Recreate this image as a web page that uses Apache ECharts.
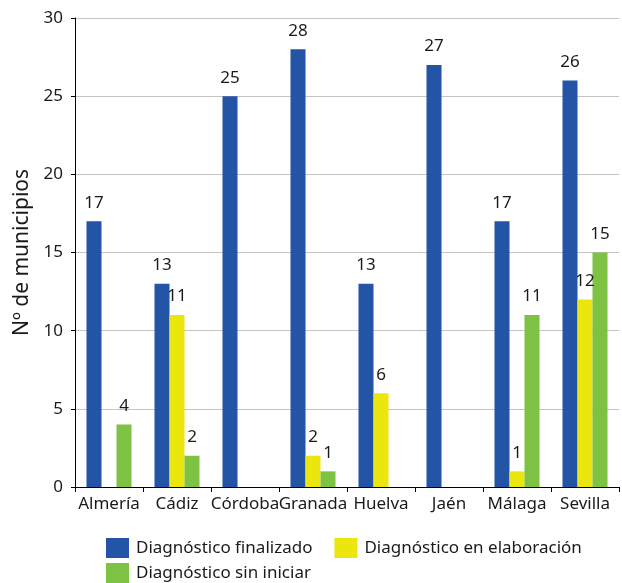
<!DOCTYPE html>
<html><head><meta charset="utf-8">
<script src="https://cdn.jsdelivr.net/npm/echarts@6/dist/echarts.min.js"></script>
<style>html,body{margin:0;padding:0;background:#fff}#c{width:622px;height:583px}</style>
</head><body><div id="c"></div>
<script>
var categories = ['Almería','Cádiz','Córdoba','Granada','Huelva','Jaén','Málaga','Sevilla'];
var finalizado = [17, 13, 25, 28, 13, 27, 17, 26];
var elaboracion = [0, 11, 0, 2, 6, 0, 1, 12];
var sinIniciar = [4, 2, 0, 1, 0, 0, 11, 15];
var seriesNames = ['Diagnóstico finalizado','Diagnóstico en elaboración','Diagnóstico sin iniciar'];
var colors = ['#2354a6','#eae60e','#7dc242'];
var yTicks = {min:0, max:30, interval:5};

var font = 'Noto Sans';
var chart = echarts.init(document.getElementById('c'));
function lbl(){
  return {show:true, position:'top', distance:10, color:'#1a1a1a', fontSize:17, fontFamily:font,
    formatter:function(p){return p.value ? String(p.value) : '';}};
}
var data = [finalizado, elaboracion, sinIniciar];
chart.setOption({
  animation:false,
  textStyle:{fontFamily:font},
  grid:{left:75, right:3, top:18, bottom:96},
  legend:[
    {data:[seriesNames[0], seriesNames[1]], left:106, top:538, padding:0, itemWidth:23, itemHeight:20, itemGap:22,
     icon:'rect', textStyle:{fontSize:17, color:'#1a1a1a', fontFamily:font, padding:[0,0,0,2]}},
    {data:[seriesNames[2]], left:106, top:563, padding:0, itemWidth:23, itemHeight:20,
     icon:'rect', textStyle:{fontSize:17, color:'#1a1a1a', fontFamily:font, padding:[0,0,0,2]}}
  ],
  xAxis:{type:'category', data:categories,
    axisLine:{lineStyle:{color:'#000', width:1}},
    axisTick:{show:true, length:5, lineStyle:{color:'#000'}},
    axisLabel:{color:'#1a1a1a', fontSize:17, margin:9, fontFamily:font, interval:0}},
  yAxis:{type:'value', min:yTicks.min, max:yTicks.max, interval:yTicks.interval,
    name:'Nº de municipios', nameLocation:'middle', nameGap:40, nameRotate:90,
    nameTextStyle:{fontSize:21, color:'#1a1a1a', fontFamily:font},
    axisLine:{show:true, lineStyle:{color:'#000'}},
    axisTick:{show:true, length:4, lineStyle:{color:'#000'}},
    axisLabel:{color:'#1a1a1a', fontSize:17, margin:12, fontFamily:font},
    splitLine:{lineStyle:{color:'#c4c4c4'}}},
  series: seriesNames.map(function(n,i){
    return {name:n, type:'bar', data:data[i], barWidth:15, barGap:'0%',
      itemStyle:{color:colors[i]}, label:lbl()};
  })
});
</script></body></html>
